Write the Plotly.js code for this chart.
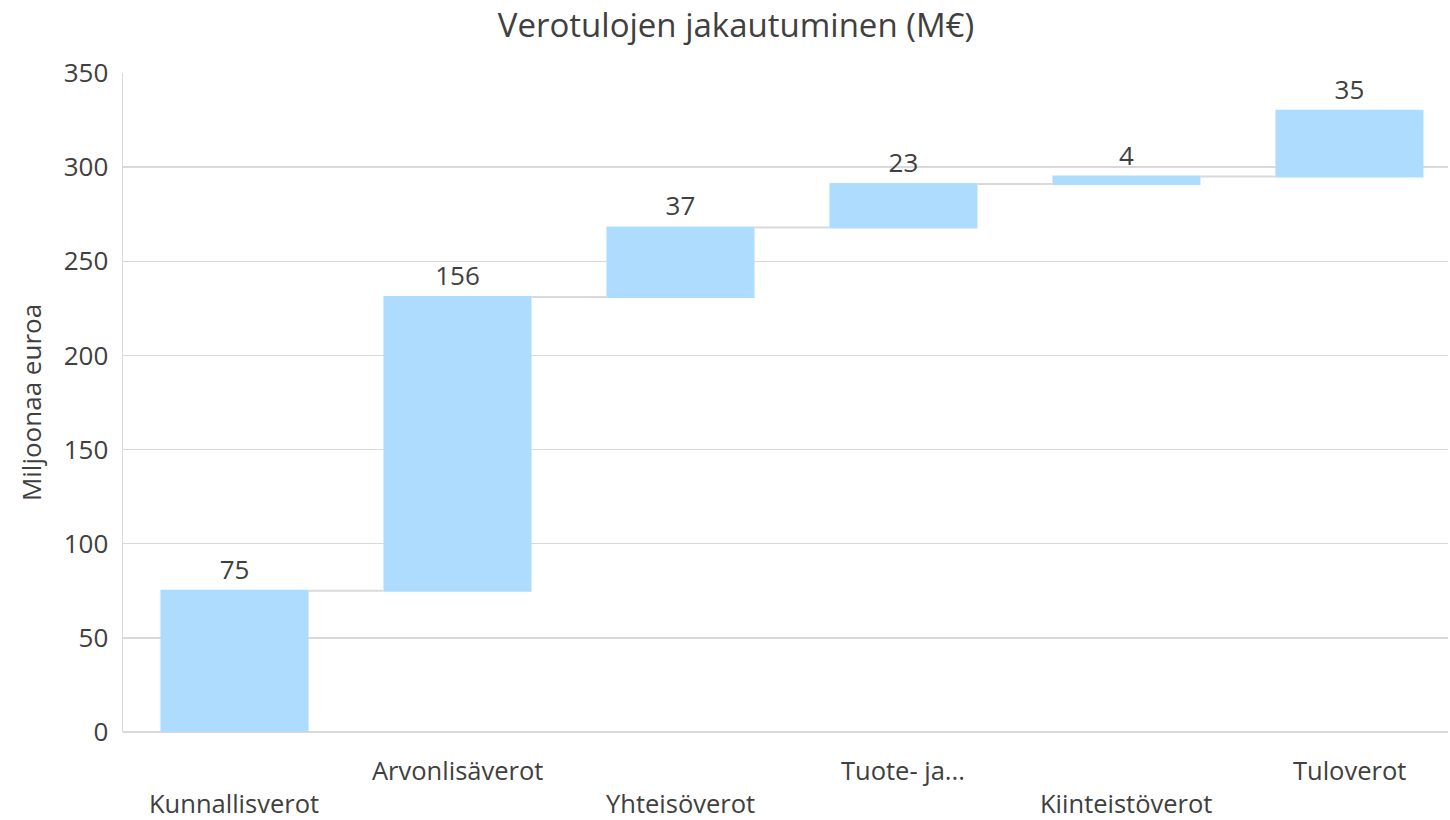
<!DOCTYPE html>
<html>
<head>
<meta charset="utf-8">
<script src="https://cdn.plot.ly/plotly-3.0.1.min.js"></script>
<style>html,body{margin:0;padding:0;background:#fff;}#chart{width:1450px;height:820px;}</style>
</head>
<body>
<div id="chart"></div>
<script>
const categories = ["Kunnallisverot", "Arvonlisäverot", "Yhteisöverot", "Tuote- ja...", "Kiinteistöverot", "Tuloverot"];
const values = [75, 156, 37, 23, 4, 35];
const measures = ["relative", "relative", "relative", "relative", "relative", "relative"];
const labelRowLow = [true, false, true, false, true, false];
const yTickVals = [0, 50, 100, 150, 200, 250, 300, 350];

const textColor = "#404040";
const fontFamily = "'Open Sans', 'Noto Sans', sans-serif";

const xIdx = categories.map((c, i) => i);

const trace = {
  type: "waterfall",
  x: xIdx,
  y: values,
  measure: measures,
  text: values.map(String),
  textposition: "outside",
  textfont: {family: fontFamily, size: 26, color: textColor},
  cliponaxis: false,
  width: 0.664,
  increasing: {marker: {color: "#ADDCFE", line: {width: 0}}},
  decreasing: {marker: {color: "#ADDCFE", line: {width: 0}}},
  totals: {marker: {color: "#ADDCFE", line: {width: 0}}},
  connector: {mode: "between", line: {color: "#d9d9d9", width: 2}},
  hoverinfo: "skip"
};

const annotations = categories.map((c, i) => ({
  x: i, xref: "x", y: 0, yref: "paper",
  text: c, showarrow: false,
  yanchor: "middle", xanchor: "center",
  yshift: labelRowLow[i] ? -71 : -38,
  font: {family: fontFamily, size: 25.5, color: textColor}
}));

const layout = {
  width: 1450, height: 820,
  margin: {l: 123, r: 2, t: 73, b: 88},
  paper_bgcolor: "#ffffff", plot_bgcolor: "#ffffff",
  showlegend: false,
  font: {family: fontFamily, size: 26, color: textColor},
  title: {text: "Verotulojen jakautuminen (M€)", x: 736/1450, xanchor: "center",
          y: 1 - 25/820, yref: "container", yanchor: "middle",
          font: {family: fontFamily, size: 33, color: textColor}},
  xaxis: {range: [-0.5, 5.442], showticklabels: false, showgrid: false,
          zeroline: false, showline: false, fixedrange: true},
  yaxis: {range: [0, 350], tickvals: yTickVals, ticktext: yTickVals.map(String),
          showgrid: true, gridcolor: "#d9d9d9", gridwidth: 1.5,
          zeroline: true, zerolinecolor: "#d9d9d9", zerolinewidth: 1.5,
          showline: true, linecolor: "#d9d9d9", linewidth: 1.5,
          ticks: "", ticklabelstandoff: 8,
          tickfont: {family: fontFamily, size: 26, color: textColor},
          title: {text: "Miljoonaa euroa", standoff: 14,
                  font: {family: fontFamily, size: 26, color: textColor}}},
  annotations: annotations
};

Plotly.newPlot("chart", [trace], layout, {displayModeBar: false, staticPlot: true});
</script>
</body>
</html>
